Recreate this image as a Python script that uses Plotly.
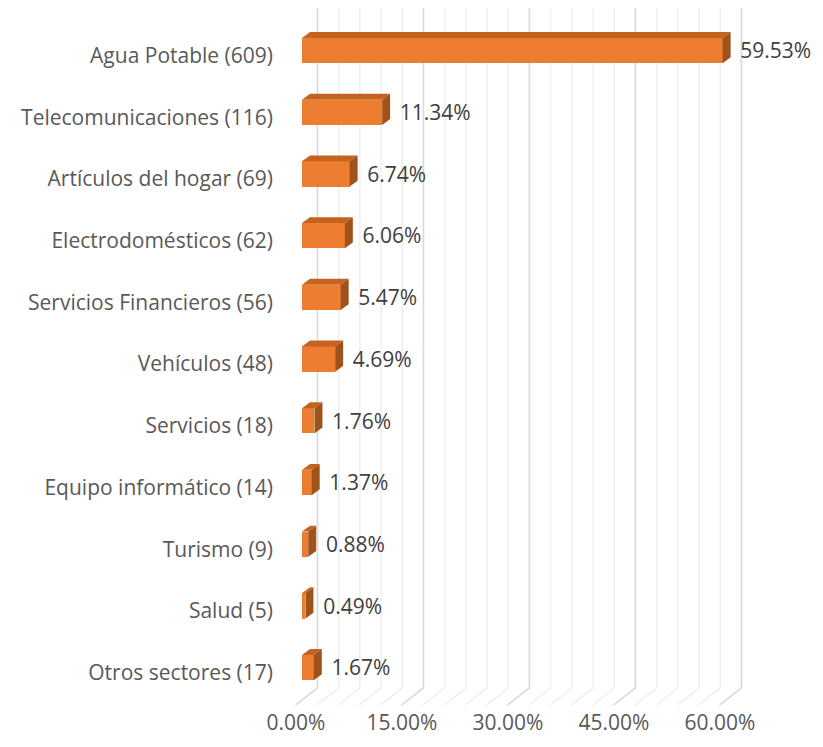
import plotly.graph_objects as go

categories = ["Agua Potable (609)", "Telecomunicaciones (116)", "Artículos del hogar (69)",
              "Electrodomésticos (62)", "Servicios Financieros (56)", "Vehículos (48)",
              "Servicios (18)", "Equipo informático (14)", "Turismo (9)", "Salud (5)",
              "Otros sectores (17)"]
values = [59.53, 11.34, 6.74, 6.06, 5.47, 4.69, 1.76, 1.37, 0.88, 0.49, 1.67]
value_labels = [f"{v:.2f}%" for v in values]
tick_values = [0, 15, 30, 45, 60]
tick_labels = ["0.00%", "15.00%", "30.00%", "45.00%", "60.00%"]
minor_step = 3

FRONT = "#ED7D31"
TOP = "#C4631F"
SIDE = "#A0521B"
TXT = "#595959"
FONT = "Open Sans"
FS = 21

idx = list(range(len(categories)))
h = 0.205     # half bar height (category units)
dx = 1.13     # depth offset in % units
dy = 0.095    # depth offset in category units
XR = [-1.70, 72.6]
YR = [10.655, -0.69]

fig = go.Figure()

# perspective gridlines (back wall + floor) on the base axes (drawn below)
back_off, front_off = 2.19, -0.92
y_top, y_back, y_front = -0.69, 10.33, 10.61
gx_major, gy_major, gx_minor, gy_minor = [], [], [], []
for k in range(0, 61, minor_step):
    xs = [k + back_off, k + back_off, k + front_off, None]
    ys = [y_top, y_back, y_front, None]
    if k % 15 == 0:
        gx_major += xs; gy_major += ys
    else:
        gx_minor += xs; gy_minor += ys
fig.add_trace(go.Scatter(x=gx_minor, y=gy_minor, mode="lines",
                         line=dict(color="#EDEDED", width=1.3), hoverinfo="skip", showlegend=False))
fig.add_trace(go.Scatter(x=gx_major, y=gy_major, mode="lines",
                         line=dict(color="#D9D9D9", width=1.6), hoverinfo="skip", showlegend=False))

# front faces (overlay axes, drawn above gridlines)
fig.add_trace(go.Bar(x=values, y=idx, orientation="h", width=2 * h, xaxis="x2", yaxis="y2",
                     marker=dict(color=FRONT, line=dict(width=0)), showlegend=False))

# top and side faces
tx, ty, sx, sy = [], [], [], []
for i, v in zip(idx, values):
    tx += [0, v, v + dx, dx, 0, None]
    ty += [i - h, i - h, i - h - dy, i - h - dy, i - h, None]
    sx += [v, v + dx, v + dx, v, v, None]
    sy += [i - h, i - h - dy, i + h - dy, i + h, i - h, None]
fig.add_trace(go.Scatter(x=tx, y=ty, mode="lines", fill="toself", fillcolor=TOP, xaxis="x2", yaxis="y2",
                         line=dict(width=0, color=TOP), hoverinfo="skip", showlegend=False))
fig.add_trace(go.Scatter(x=sx, y=sy, mode="lines", fill="toself", fillcolor=SIDE, xaxis="x2", yaxis="y2",
                         line=dict(width=0, color=SIDE), hoverinfo="skip", showlegend=False))

# data labels
fig.add_trace(go.Scatter(x=[v + 2.5 for v in values], y=[i + 0.04 for i in idx], mode="text",
                         text=value_labels, textposition="middle right", xaxis="x2", yaxis="y2",
                         textfont=dict(family=FONT, size=FS, color="#404040"),
                         cliponaxis=False, hoverinfo="skip", showlegend=False))

fig.update_layout(
    width=807, height=731,
    margin=dict(l=282, r=0, t=0, b=31),
    plot_bgcolor="white", paper_bgcolor="white",
    font=dict(family=FONT, size=FS, color=TXT),
    bargap=0,
    xaxis=dict(range=XR, showgrid=False, zeroline=False, showline=False, automargin=False,
               tickvals=tick_values, ticktext=tick_labels, ticks="",
               ticklabelshift=-6, tickfont=dict(family=FONT, size=FS, color=TXT)),
    yaxis=dict(range=YR, showgrid=False, zeroline=False, showline=False, automargin=False,
               tickvals=idx, ticktext=categories, ticks="",
               ticklabelshift=-5, ticklabelstandoff=16,
               tickfont=dict(family=FONT, size=FS, color=TXT)),
    xaxis2=dict(range=XR, overlaying="x", showgrid=False, zeroline=False, showline=False,
                showticklabels=False, automargin=False),
    yaxis2=dict(range=YR, overlaying="y", showgrid=False, zeroline=False, showline=False,
                showticklabels=False, automargin=False),
)

fig.write_html("out.html")
